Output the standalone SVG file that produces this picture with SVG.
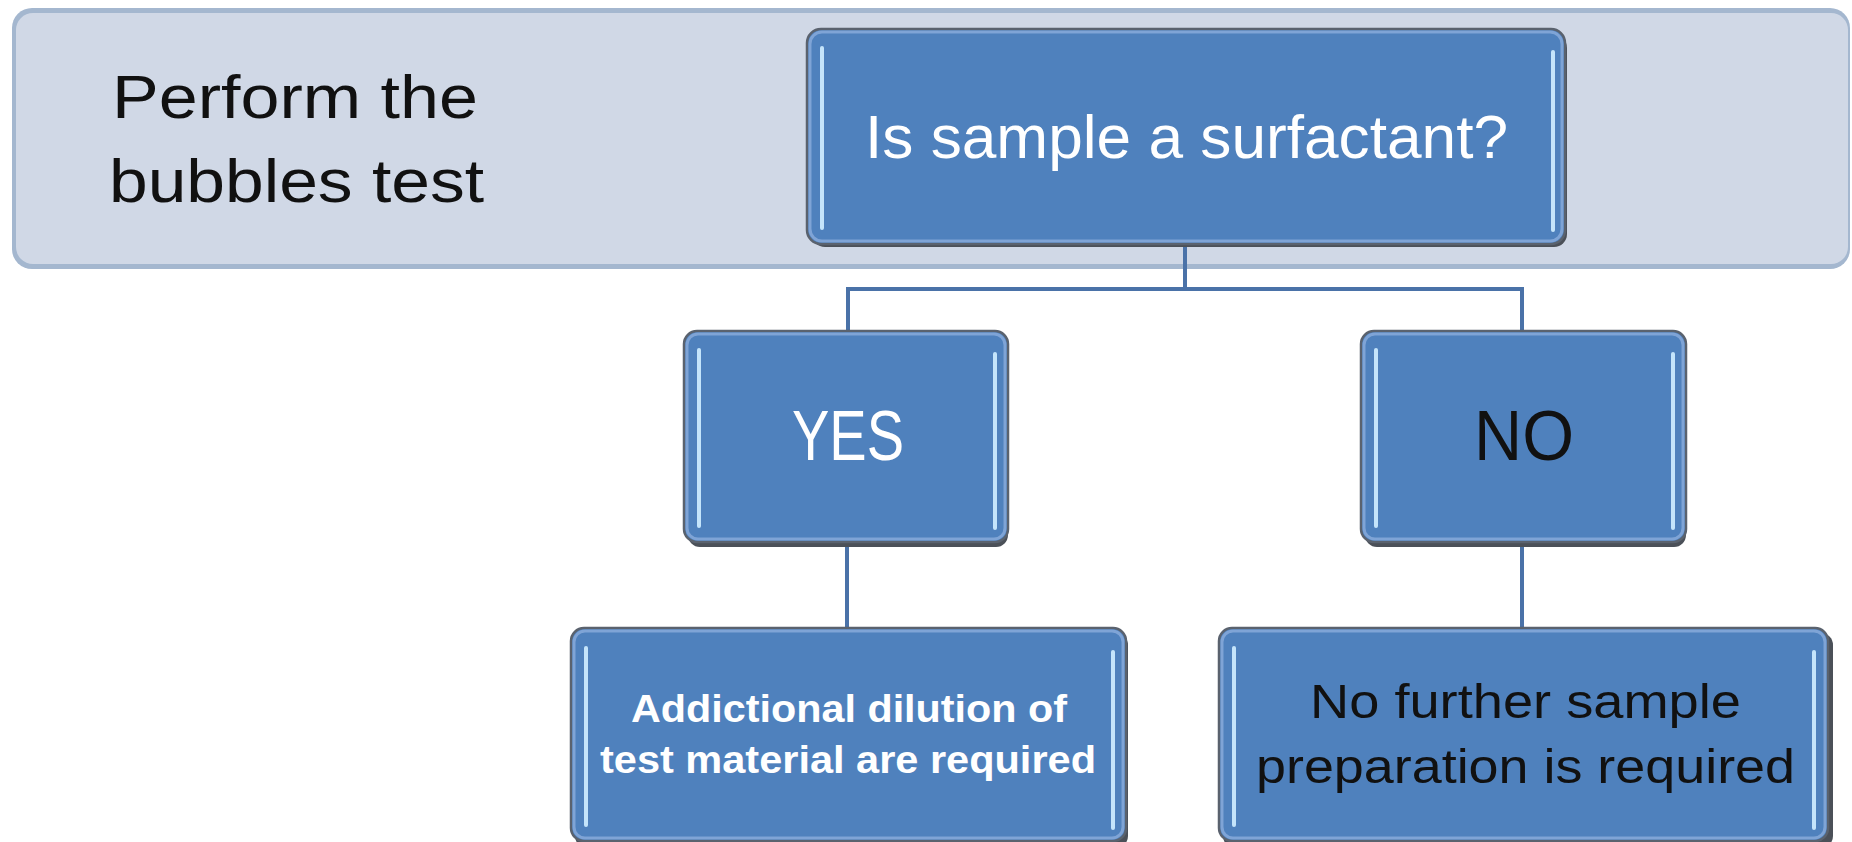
<svg xmlns="http://www.w3.org/2000/svg" width="1852" height="842" viewBox="0 0 1852 842">
<style>
.shadow{fill:#4b5058}
.box{fill:#4F81BD;stroke:#5a626e;stroke-width:2.5}
.inner{fill:none;stroke:#7fa4d6;stroke-width:3}
.hl{stroke:#c4e4fb;stroke-width:4;stroke-linecap:round}
.t{font-family:"Liberation Sans",Arial,sans-serif;text-anchor:start}
.w{fill:#ffffff}
.k{fill:#111111}
.con{fill:none;stroke:#4a72a8;stroke-width:4}
</style>
<rect width="1852" height="842" fill="#ffffff"/>
<g id="banner">
<rect x="12" y="8" width="1838" height="261" rx="20" fill="#a4b7cf"/>
<rect x="16" y="13" width="1832" height="251" rx="17" fill="#d0d8e6"/>
<text class="t k" x="112" y="118" font-size="62" textLength="366" lengthAdjust="spacingAndGlyphs">Perform the</text>
<text class="t k" x="109" y="202" font-size="62" textLength="375" lengthAdjust="spacingAndGlyphs">bubbles test</text>
</g>
<g id="connectors">
<path class="con" d="M1185 245 V289 M848 289 H1522 M848 287 V331 M1522 287 V331"/>
<path class="con" d="M847 542 V628"/>
<path class="con" d="M1522 542 V628"/>
</g>
<g id="q">
<rect class="shadow" x="812" y="35" width="755" height="212" rx="13"/>
<rect class="box" x="807" y="29" width="758" height="215" rx="14"/>
<rect class="inner" x="810" y="32" width="752" height="209" rx="12"/>
<line class="hl" x1="822" y1="48" x2="822" y2="228"/>
<line class="hl" x1="1553" y1="52" x2="1553" y2="230"/>
<text class="t w" x="865" y="158" font-size="62" textLength="643" lengthAdjust="spacingAndGlyphs">Is sample a surfactant?</text>
</g>
<g id="yes">
<rect class="shadow" x="688" y="336" width="320" height="211" rx="12"/>
<rect class="box" x="684" y="331" width="324" height="211" rx="13"/>
<rect class="inner" x="687" y="334" width="318" height="205" rx="11"/>
<line class="hl" x1="699" y1="350" x2="699" y2="526"/>
<line class="hl" x1="995" y1="354" x2="995" y2="528"/>
<text class="t w" x="792" y="460" font-size="70" textLength="112" lengthAdjust="spacingAndGlyphs">YES</text>
</g>
<g id="no">
<rect class="shadow" x="1365" y="336" width="321" height="211" rx="12"/>
<rect class="box" x="1361" y="331" width="325" height="211" rx="13"/>
<rect class="inner" x="1364" y="334" width="319" height="205" rx="11"/>
<line class="hl" x1="1376" y1="350" x2="1376" y2="526"/>
<line class="hl" x1="1673" y1="354" x2="1673" y2="528"/>
<text class="t k" x="1474" y="460" font-size="70" textLength="100" lengthAdjust="spacingAndGlyphs">NO</text>
</g>
<g id="dilution">
<rect class="shadow" x="575" y="633" width="553" height="215" rx="12"/>
<rect class="box" x="571" y="628" width="555" height="213" rx="13"/>
<rect class="inner" x="574" y="631" width="549" height="207" rx="11"/>
<line class="hl" x1="586" y1="648" x2="586" y2="825"/>
<line class="hl" x1="1113" y1="652" x2="1113" y2="828"/>
<text class="t w" x="631" y="722" font-size="38" font-weight="bold" textLength="436" lengthAdjust="spacingAndGlyphs">Addictional dilution of</text>
<text class="t w" x="600" y="773" font-size="38" font-weight="bold" textLength="496" lengthAdjust="spacingAndGlyphs">test material are required</text>
</g>
<g id="noprep">
<rect class="shadow" x="1223" y="633" width="610" height="215" rx="12"/>
<rect class="box" x="1219" y="628" width="609" height="213" rx="13"/>
<rect class="inner" x="1222" y="631" width="603" height="207" rx="11"/>
<line class="hl" x1="1234" y1="648" x2="1234" y2="825"/>
<line class="hl" x1="1814" y1="652" x2="1814" y2="828"/>
<text class="t k" x="1310" y="718" font-size="49" textLength="431" lengthAdjust="spacingAndGlyphs">No further sample</text>
<text class="t k" x="1256" y="783" font-size="49" textLength="539" lengthAdjust="spacingAndGlyphs">preparation is required</text>
</g>
</svg>
